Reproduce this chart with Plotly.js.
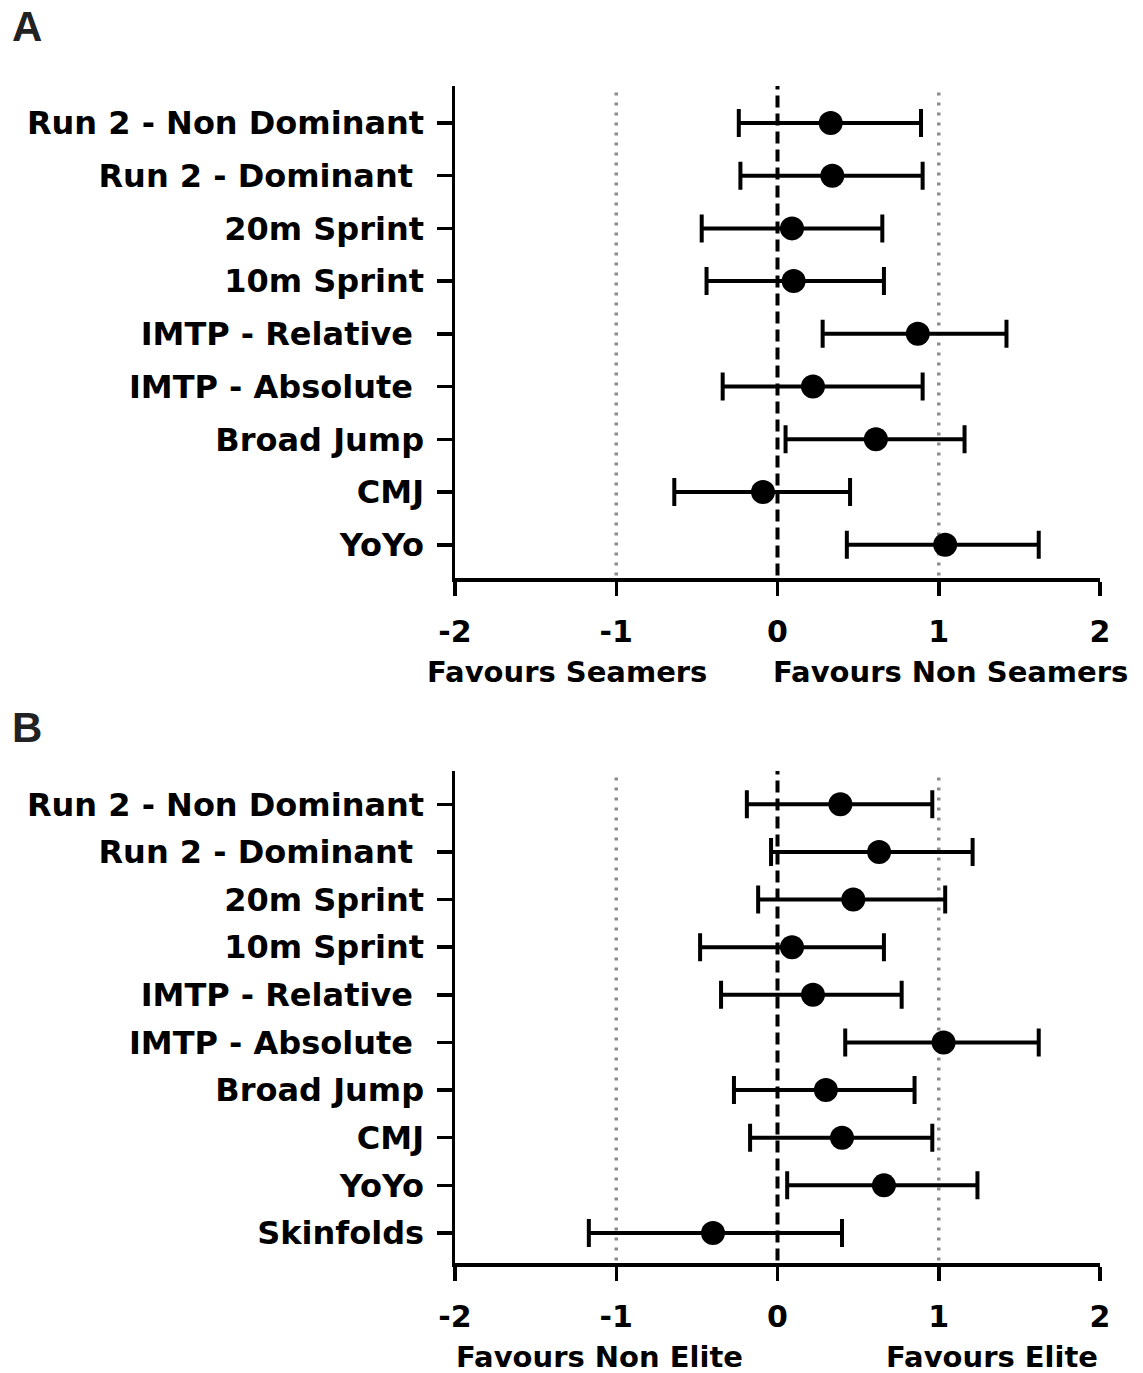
<!DOCTYPE html>
<html>
<head>
<meta charset="utf-8">
<script src="https://cdn.plot.ly/plotly-3.0.1.min.js"></script>
<style>html,body{margin:0;padding:0;background:#fff;}#chart{width:1143px;height:1373px;}</style>
</head>
<body>
<div id="chart"></div>
<script>
// Panel A: Seamers vs Non Seamers (listed top to bottom)
const labelsA = ['Run 2 - Non Dominant', 'Run 2 - Dominant\u00a0', '20m Sprint', '10m Sprint',
  'IMTP - Relative\u00a0', 'IMTP - Absolute\u00a0', 'Broad Jump', 'CMJ', 'YoYo'];
const estA  = [0.33, 0.34, 0.09, 0.10, 0.87, 0.22, 0.61, -0.09, 1.04];
const lowA  = [-0.24, -0.23, -0.47, -0.44, 0.28, -0.34, 0.05, -0.64, 0.43];
const highA = [0.89, 0.90, 0.65, 0.66, 1.42, 0.90, 1.16, 0.45, 1.62];

// Panel B: Elite vs Non Elite (listed top to bottom)
const labelsB = ['Run 2 - Non Dominant', 'Run 2 - Dominant\u00a0', '20m Sprint', '10m Sprint',
  'IMTP - Relative\u00a0', 'IMTP - Absolute\u00a0', 'Broad Jump', 'CMJ', 'YoYo', 'Skinfolds'];
const estB  = [0.39, 0.63, 0.47, 0.09, 0.22, 1.03, 0.30, 0.40, 0.66, -0.40];
const lowB  = [-0.19, -0.04, -0.12, -0.48, -0.35, 0.42, -0.27, -0.17, 0.06, -1.17];
const highB = [0.96, 1.21, 1.04, 0.66, 0.77, 1.62, 0.85, 0.96, 1.24, 0.40];

const xTicks = [-2, -1, 0, 1, 2];
const refDotted = [-1, 1];
const refDashed = [0];

const FONT = 'DejaVu Sans, Liberation Sans, Arial, sans-serif';

function forestTrace(labels, est, low, high, xa, ya) {
  return {
    type: 'scatter', mode: 'markers',
    x: est, y: labels, xaxis: xa, yaxis: ya,
    marker: {symbol: 'circle', size: 24, color: '#000'},
    error_x: {
      type: 'data', symmetric: false,
      array: high.map((h, i) => h - est[i]),
      arrayminus: low.map((l, i) => est[i] - l),
      color: '#000', thickness: 4, width: 14
    },
    showlegend: false, hoverinfo: 'x+y'
  };
}

const data = [
  forestTrace(labelsA, estA, lowA, highA, 'x', 'y'),
  forestTrace(labelsB, estB, lowB, highB, 'x2', 'y2')
];

const xDomain = [455 / 1143, 1100 / 1143];

function xAxis(anchor) {
  return {
    domain: xDomain, anchor: anchor, range: [-2, 2],
    tickvals: xTicks, ticktext: xTicks.map(String),
    showline: true, linecolor: '#000', linewidth: 3.5,
    ticks: 'outside', ticklen: 14, tickwidth: 3.5, tickcolor: '#000',
    showgrid: false, zeroline: false,
    tickfont: {family: FONT, size: 30, color: '#000', weight: 'bold'},
    ticklabelstandoff: 10
  };
}
function yAxis(anchor, labels, domain) {
  return {
    domain: domain, anchor: anchor, type: 'category',
    categoryorder: 'array', categoryarray: labels.slice().reverse(),
    range: [-0.63, labels.length - 1 + 0.70],
    showline: true, linecolor: '#000', linewidth: 3.5,
    ticks: 'outside', ticklen: 15, tickwidth: 3.5, tickcolor: '#000',
    showgrid: false, zeroline: false,
    tickfont: {family: FONT, size: 32, color: '#000', weight: 'bold'},
    ticklabelstandoff: 6
  };
}

const shapes = [];
[['x', 'y domain'], ['x2', 'y2 domain']].forEach(([xr, yr]) => {
  refDotted.forEach(v => shapes.push({
    type: 'line', xref: xr, yref: yr, x0: v, x1: v, y0: 0.005, y1: 1,
    line: {color: '#8c8c8c', width: 3.5, dash: '3px,7px'}, layer: 'below'
  }));
  refDashed.forEach(v => shapes.push({
    type: 'line', xref: xr, yref: yr, x0: v, x1: v, y0: 0.005, y1: 1,
    line: {color: '#000', width: 4, dash: '12px,6px'}, layer: 'below'
  }));
});

const annFont = {family: FONT, size: 29, color: '#000', weight: 'bold'};
const letterFont = {family: 'Liberation Sans, Arial, sans-serif', size: 42, color: '#222', weight: 'bold'};
const annotations = [
  {text: 'A', xref: 'paper', yref: 'paper', x: 27 / 1143, y: 1 - 27 / 1373, showarrow: false, font: letterFont, xanchor: 'center', yanchor: 'middle'},
  {text: 'B', xref: 'paper', yref: 'paper', x: 27 / 1143, y: 1 - 727 / 1373, showarrow: false, font: letterFont, xanchor: 'center', yanchor: 'middle'},
  {text: 'Favours Seamers', xref: 'paper', yref: 'paper', x: 567 / 1143, y: 1 - 672 / 1373, showarrow: false, font: annFont, xanchor: 'center', yanchor: 'middle'},
  {text: 'Favours Non Seamers', xref: 'paper', yref: 'paper', x: 950 / 1143, y: 1 - 672 / 1373, showarrow: false, font: annFont, xanchor: 'center', yanchor: 'middle'},
  {text: 'Favours Non Elite', xref: 'paper', yref: 'paper', x: 599 / 1143, y: 1 - 1357 / 1373, showarrow: false, font: annFont, xanchor: 'center', yanchor: 'middle'},
  {text: 'Favours Elite', xref: 'paper', yref: 'paper', x: 992 / 1143, y: 1 - 1357 / 1373, showarrow: false, font: annFont, xanchor: 'center', yanchor: 'middle'}
];

const layout = {
  width: 1143, height: 1373,
  margin: {l: 0, r: 0, t: 0, b: 0},
  paper_bgcolor: '#fff', plot_bgcolor: '#fff',
  xaxis: xAxis('y'),
  yaxis: yAxis('x', labelsA, [1 - 578 / 1373, 1 - 86 / 1373]),
  xaxis2: xAxis('y2'),
  yaxis2: yAxis('x2', labelsB, [1 - 1263 / 1373, 1 - 771 / 1373]),
  shapes: shapes,
  annotations: annotations,
  showlegend: false
};

Plotly.newPlot('chart', data, layout, {displayModeBar: false, staticPlot: true});
</script>
</body>
</html>
